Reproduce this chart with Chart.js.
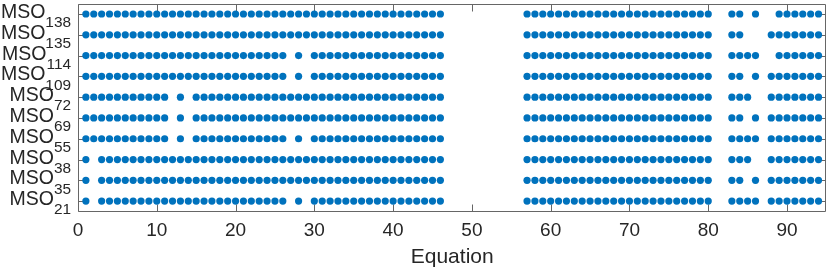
<!DOCTYPE html>
<html>
<head>
<meta charset="utf-8">
<script src="https://cdn.jsdelivr.net/npm/chart.js@4/dist/chart.umd.min.js"></script>
<style>
html,body{margin:0;padding:0;background:#fff;}
#wrap{width:830px;height:271px;}
</style>
</head>
<body>
<div id="wrap"><canvas id="c" width="830" height="271"></canvas></div>
<script>
// Row labels (top to bottom): MSO with subscript index
const msoIds = ['138','135','114','109','72','69','55','38','35','21'];

// Equations present for each MSO row
const eq138 = [1,2,3,4,5,6,7,8,9,10,11,12,13,14,15,16,17,18,19,20,21,22,23,24,25,26,27,28,29,30,31,32,33,34,35,36,37,38,39,40,41,42,43,44,45,46,57,58,59,60,61,62,63,64,65,66,67,68,69,70,71,72,73,74,75,76,77,78,79,80,83,84,86,89,90,91,92,93,94];
const eq135 = [1,2,3,4,5,6,7,8,9,10,11,12,13,14,15,16,17,18,19,20,21,22,23,24,25,26,27,28,29,30,31,32,33,34,35,36,37,38,39,40,41,42,43,44,45,46,57,58,59,60,61,62,63,64,65,66,67,68,69,70,71,72,73,74,75,76,77,78,79,80,83,84,88,89,90,91,92,93,94];
const eq114 = [1,2,3,4,5,6,7,8,9,10,11,12,13,14,15,16,17,18,19,20,21,22,23,24,25,26,28,30,31,32,33,34,35,36,37,38,39,40,41,42,43,44,45,46,57,58,59,60,61,62,63,64,65,66,67,68,69,70,71,72,73,74,75,76,77,78,79,80,83,84,85,86,89,90,91,92,93,94];
const eq109 = [1,2,3,4,5,6,7,8,9,10,11,12,13,14,15,16,17,18,19,20,21,22,23,24,25,26,28,30,31,32,33,34,35,36,37,38,39,40,41,42,43,44,45,46,57,58,59,60,61,62,63,64,65,66,67,68,69,70,71,72,73,74,75,76,77,78,79,80,83,84,86,88,89,90,91,92,93,94];
const eq72 = [1,2,3,4,5,6,7,8,9,10,11,13,15,16,17,18,19,20,21,22,23,24,25,26,27,28,29,30,31,32,33,34,35,36,37,38,39,40,41,42,43,44,45,46,57,58,59,60,61,62,63,64,65,66,67,68,69,70,71,72,73,74,75,76,77,78,79,80,83,84,85,88,89,90,91,92,93,94];
const eq69 = [1,2,3,4,5,6,7,8,9,10,11,13,15,16,17,18,19,20,21,22,23,24,25,26,27,28,29,30,31,32,33,34,35,36,37,38,39,40,41,42,43,44,45,46,57,58,59,60,61,62,63,64,65,66,67,68,69,70,71,72,73,74,75,76,77,78,79,80,83,84,86,88,89,90,91,92,93,94];
const eq55 = [1,2,3,4,5,6,7,8,9,10,11,13,15,16,17,18,19,20,21,22,23,24,25,26,28,30,31,32,33,34,35,36,37,38,39,40,41,42,43,44,45,46,57,58,59,60,61,62,63,64,65,66,67,68,69,70,71,72,73,74,75,76,77,78,79,80,83,84,85,86,88,89,90,91,92,93,94];
const eq38 = [1,3,4,5,6,7,8,9,10,11,12,13,14,15,16,17,18,19,20,21,22,23,24,25,26,27,28,29,30,31,32,33,34,35,36,37,38,39,40,41,42,43,44,45,46,57,58,59,60,61,62,63,64,65,66,67,68,69,70,71,72,73,74,75,76,77,78,79,80,83,84,85,88,89,90,91,92,93,94];
const eq35 = [1,3,4,5,6,7,8,9,10,11,12,13,14,15,16,17,18,19,20,21,22,23,24,25,26,27,28,29,30,31,32,33,34,35,36,37,38,39,40,41,42,43,44,45,46,57,58,59,60,61,62,63,64,65,66,67,68,69,70,71,72,73,74,75,76,77,78,79,80,83,84,86,88,89,90,91,92,93,94];
const eq21 = [1,3,4,5,6,7,8,9,10,11,12,13,14,15,16,17,18,19,20,21,22,23,24,25,26,28,30,31,32,33,34,35,36,37,38,39,40,41,42,43,44,45,46,57,58,59,60,61,62,63,64,65,66,67,68,69,70,71,72,73,74,75,76,77,78,79,80,83,84,85,86,88,89,90,91,92,93,94];

const rowSeries = [eq138, eq135, eq114, eq109, eq72, eq69, eq55, eq38, eq35, eq21];
const xTicks = [0,10,20,30,40,50,60,70,80,90];
const xLabel = 'Equation';

const FONT = '"Liberation Sans", Arial, Helvetica, sans-serif';
const AXIS_COLOR = '#666666';
const TEXT_COLOR = '#262626';
const DOT_COLOR = '#0072BD';

const nRows = msoIds.length;
const datasets = rowSeries.map((eqs, i) => ({
  label: 'MSO' + msoIds[i],
  data: eqs.map(e => ({x: e, y: nRows - i})),
  backgroundColor: DOT_COLOR,
  borderWidth: 0,
  pointRadius: 3.6,
  pointHoverRadius: 3.6
}));

const frame = {
  id: 'frame',
  beforeDatasetsDraw(chart) {
    const {ctx, chartArea: a, scales: {x, y}} = chart;
    ctx.save();
    ctx.strokeStyle = AXIS_COLOR;
    ctx.lineWidth = 1;
    const L = Math.round(a.left) + 0.5, R = Math.round(a.right) - 0.5;
    const T = Math.round(a.top) + 0.5, B = Math.round(a.bottom) - 0.5;
    ctx.beginPath();
    ctx.rect(L, T, R - L, B - T);
    const tl = 7;
    xTicks.forEach(v => {
      const px = Math.round(x.getPixelForValue(v)) + 0.5;
      ctx.moveTo(px, B); ctx.lineTo(px, B - tl);
      ctx.moveTo(px, T); ctx.lineTo(px, T + tl);
    });
    for (let i = 0; i < nRows; i++) {
      const py = Math.round(y.getPixelForValue(nRows - i)) + 0.5;
      ctx.moveTo(L, py); ctx.lineTo(L + tl, py);
      ctx.moveTo(R, py); ctx.lineTo(R - tl, py);
    }
    ctx.stroke();
    ctx.restore();
  },
  afterDraw(chart) {
    const {ctx, scales: {y}} = chart;
    ctx.save();
    ctx.fillStyle = TEXT_COLOR;
    ctx.textBaseline = 'alphabetic';
    const rightEdge = 71;
    for (let i = 0; i < nRows; i++) {
      const py = y.getPixelForValue(nRows - i);
      ctx.font = '15.4px ' + FONT;
      ctx.textAlign = 'right';
      const sub = msoIds[i];
      const sw = ctx.measureText(sub).width;
      ctx.fillText(sub, rightEdge, py + 13.3);
      ctx.font = '19.5px ' + FONT;
      ctx.fillText('MSO', rightEdge - sw, py + 4);
    }
    ctx.restore();
  }
};

new Chart(document.getElementById('c'), {
  type: 'scatter',
  data: {datasets},
  options: {
    responsive: false,
    animation: false,
    devicePixelRatio: 1,
    layout: {padding: {left: 78, right: 2, top: 2.5, bottom: 0}},
    plugins: {legend: {display: false}, tooltip: {enabled: false}},
    scales: {
      x: {
        type: 'linear',
        min: 0, max: 95,
        afterBuildTicks: s => { s.ticks = xTicks.map(v => ({value: v})); },
        afterFit: s => { s.height = 59.5; },
        grid: {display: false, drawTicks: false},
        border: {display: false},
        ticks: {color: TEXT_COLOR, font: {family: FONT, size: 19}, padding: 8, maxRotation: 0, autoSkip: false},
        title: {display: true, text: xLabel, color: TEXT_COLOR, font: {family: FONT, size: 21}, padding: {top: 0, bottom: 1}}
      },
      y: {
        type: 'linear',
        min: 0.5, max: nRows + 0.5,
        display: false
      }
    }
  },
  plugins: [frame]
});
</script>
</body>
</html>
